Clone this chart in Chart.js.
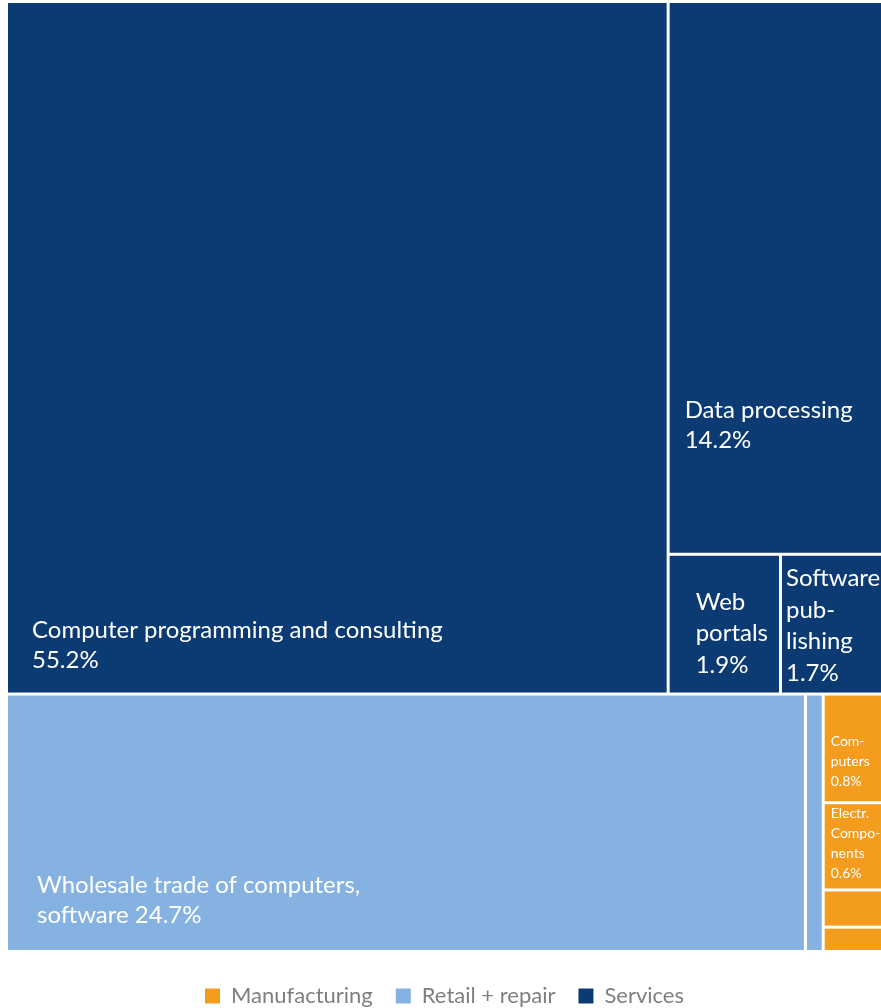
<!DOCTYPE html>
<html>
<head>
<meta charset="utf-8">
<script src="https://cdn.jsdelivr.net/npm/chart.js@4.4.1/dist/chart.umd.min.js"></script>
<style>
  html, body { margin: 0; padding: 0; background: #ffffff; }
  #wrap { width: 881px; height: 1008px; position: relative; }
</style>
</head>
<body>
<div id="wrap"><canvas id="treemap"></canvas></div>
<script>
// groups, in legend order
const groupNames = ['Manufacturing', 'Retail + repair', 'Services'];
const groupColors = ['#f39c1e', '#86b2e1', '#0c3b74'];

// cells of each group (share in %)
const manufacturingNames = ['Computers', 'Electronic components', 'Other manufacturing', 'Other manufacturing 2'];
const manufacturingValues = [0.76, 0.61, 0.26, 0.16];
const retailNames = ['Wholesale trade of computers, software', 'Repair of computers'];
const retailValues = [24.7, 0.55];
const servicesNames = ['Computer programming and consulting', 'Data processing', 'Web portals', 'Software publishing'];
const servicesValues = [55.2, 14.2, 1.9, 1.7];

// text written in the cells, {v} is replaced by the value
const manufacturingText = [['Com-', 'puters', '{v}'], ['Electr.', 'Compo-', 'nents', '{v}'], [], []];
const retailText = [['Wholesale trade of computers,', 'software {v}'], []];
const servicesText = [
    ['Computer programming and consulting', '{v}'],
    ['Data processing', '{v}'],
    ['Web', 'portals', '{v}'],
    ['Software', 'pub-', 'lishing', '{v}']
];

// where the label sits in its cell: left offset, last baseline above cell bottom, line height
const bigLabel = { size: 24, lh: 30 };
const smallLabel = { size: 14, lh: 20 };
const manufacturingLabelPos = [{ ...smallLabel, dx: 6, bottom: 15 }, { ...smallLabel, dx: 6, bottom: 10 }, null, null];
const retailLabelPos = [{ ...bigLabel, dx: 29, bottom: 27 }, null];
const servicesLabelPos = [
    { ...bigLabel, dx: 24, bottom: 25 },
    { ...bigLabel, dx: 15, bottom: 105 },
    { ...bigLabel, dx: 26, bottom: 20, lh: 31.5 },
    { ...bigLabel, dx: 4, bottom: 12, lh: 31.5 }
];

const CELL_GAP = 1.5;

function sum(arr) {
    return arr.reduce((a, b) => a + b, 0);
}

// worst aspect ratio of a row laid along a side
function worst(row, side) {
    const s = sum(row);
    const mx = Math.max(...row);
    const mn = Math.min(...row);
    return Math.max(side * side * mx / (s * s), (s * s) / (side * side * mn));
}

/**
 * Squarified treemap layout (values sorted descending).
 */
function squarify(values, rect) {
    const scale = rect.w * rect.h / sum(values);
    const areas = values.map(v => v * scale);
    const out = [];
    let r = { ...rect };
    let i = 0;
    while (i < areas.length) {
        const side = Math.min(r.w, r.h);
        const row = [areas[i]];
        let j = i + 1;
        while (j < areas.length && worst(row.concat(areas[j]), side) <= worst(row, side)) {
            row.push(areas[j]);
            j++;
        }
        const rowSum = sum(row);
        if (r.w >= r.h) {
            const cw = rowSum / r.h;
            let yy = r.y;
            row.forEach(a => { out.push({ x: r.x, y: yy, w: cw, h: a / cw }); yy += a / cw; });
            r = { x: r.x + cw, y: r.y, w: r.w - cw, h: r.h };
        } else {
            const rh = rowSum / r.w;
            let xx = r.x;
            row.forEach(a => { out.push({ x: xx, y: r.y, w: a / rh, h: rh }); xx += a / rh; });
            r = { x: r.x, y: r.y + rh, w: r.w, h: r.h - rh };
        }
        i = j;
    }
    return out;
}

const treemapCells = {
    id: 'treemapCells',
    beforeDatasetsDraw(chart) {
        const { ctx, chartArea, scales: { x, y } } = chart;
        const W = chartArea.width;
        const H = chartArea.height;
        const datasets = chart.data.datasets;
        // white gaps only between cells, not on the outer border
        const inset = (edge, limit) => (Math.abs(edge - limit) < 0.5 ? 0 : CELL_GAP);

        const groupOrder = datasets.map((ds, i) => i)
            .sort((a, b) => sum(datasets[b].tree.values) - sum(datasets[a].tree.values));
        const groupRects = squarify(groupOrder.map(i => sum(datasets[i].tree.values)), { x: 0, y: 0, w: W, h: H });

        ctx.save();
        groupOrder.forEach((gi, k) => {
            const ds = datasets[gi];
            const vals = ds.tree.values;
            const order = vals.map((v, j) => j).sort((a, b) => vals[b] - vals[a]);
            const rects = squarify(order.map(j => vals[j]), groupRects[k]);

            order.forEach((j, n) => {
                const r = rects[n];
                const x0 = x.getPixelForValue(r.x / W * 100);
                const x1 = x.getPixelForValue((r.x + r.w) / W * 100);
                const y0 = y.getPixelForValue(r.y / H * 100);
                const y1 = y.getPixelForValue((r.y + r.h) / H * 100);
                const left = x0 + inset(x0, chartArea.left);
                const right = x1 - inset(x1, chartArea.right);
                const top = y0 + inset(y0, chartArea.top);
                const bottom = y1 - inset(y1, chartArea.bottom);

                ctx.fillStyle = ds.backgroundColor;
                ctx.fillRect(left, top, right - left, bottom - top);

                const lines = ds.tree.text[j];
                const pos = ds.tree.labelPos[j];
                if (!pos || !lines.length) return;
                const txt = lines.map(l => l.replace('{v}', vals[j].toFixed(1) + '%'));
                ctx.fillStyle = '#ffffff';
                ctx.font = pos.size + 'px Lato';
                ctx.textAlign = 'left';
                ctx.textBaseline = 'alphabetic';
                const lastBase = bottom - pos.bottom;
                txt.forEach((line, li) => {
                    ctx.fillText(line, left + pos.dx, lastBase - (txt.length - 1 - li) * pos.lh);
                });
            });
        });
        ctx.restore();
    }
};

const trees = [
    { names: manufacturingNames, values: manufacturingValues, text: manufacturingText, labelPos: manufacturingLabelPos },
    { names: retailNames, values: retailValues, text: retailText, labelPos: retailLabelPos },
    { names: servicesNames, values: servicesValues, text: servicesText, labelPos: servicesLabelPos }
];

new Chart(document.getElementById('treemap'), {
    type: 'scatter',
    data: {
        datasets: groupNames.map((name, i) => ({
            label: name,
            data: [],
            tree: trees[i],
            backgroundColor: groupColors[i],
            borderColor: groupColors[i],
            borderWidth: 0
        }))
    },
    options: {
        responsive: true,
        maintainAspectRatio: false,
        animation: false,
        events: [],
        layout: {
            padding: { left: 8, top: 3, right: 0, bottom: -9 }
        },
        scales: {
            x: { type: 'linear', min: 0, max: 100, display: false },
            y: { type: 'linear', min: 0, max: 100, reverse: true, display: false }
        },
        plugins: {
            tooltip: { enabled: false },
            legend: {
                position: 'bottom',
                title: { display: true, text: '', padding: { top: 10.8, bottom: 0 }, font: { size: 1 } },
                labels: {
                    boxWidth: 15,
                    boxHeight: 15,
                    padding: 23,
                    color: '#7f7f7f',
                    font: { family: 'Lato', size: 22 }
                }
            }
        }
    },
    plugins: [treemapCells]
});
</script>
</body>
</html>
